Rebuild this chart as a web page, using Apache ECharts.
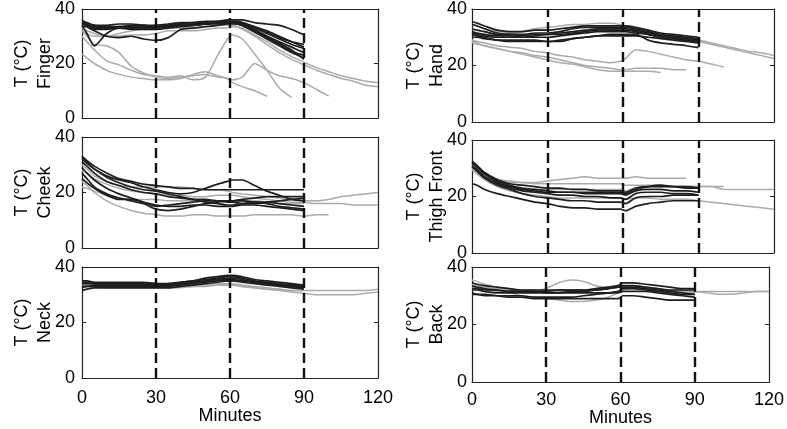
<!DOCTYPE html>
<html><head><meta charset="utf-8">
<script src="https://cdn.jsdelivr.net/npm/echarts@6/dist/echarts.min.js"></script>
<style>html,body{margin:0;padding:0;background:#fff}#c{width:787px;height:429px}</style>
</head><body><div id="c"></div>
<script>
// shared time axis (minutes)
const minutes = [0,2,5,10,15,20,25,30,35,40,45,50,55,59,61,65,70,75,80,85,90,95,100,105,110,115,120];
const phaseMarks = [30,60,90];
const panelNames = ['Finger','Hand','Cheek','Thigh Front','Neck','Back'];

// Finger
const fB1 = [35.5,35,34,34,34.5,34.5,34,34,34.5,35,35,35.5,35.5,36,36,36,35,34.5,34,32.5,30.5];
const fB2 = [34.5,34,33.5,33.5,33.5,34,34,33.5,34,34.5,34.5,35,35,35.5,35.5,35,33.5,31.5,29.5,28,27];
const fB3 = [36,34.5,33,33,33.5,33.5,33,34,34,34,34.5,34.5,35,35,35.5,35,33,31,29,27,25.5];
const fB4 = [35,33.5,32,30,29.5,30,29,28.5,29.5,32.5,33,33.5,34,34.5,34.5,34,32,30,28,26,24];
const fB5 = [34,31,26.5,31,33,32.5,32.5,32.5,33,33.5,34,34.5,35,35,35,34,32,29.5,27,24.5,23];
const fB6 = [35,34.5,34,33,33,33.5,34,33.5,34,34.5,35,35,35.5,35.5,35,34,31.5,29,26.5,24,22];
const fB7 = [33.5,33.5,32.5,32.5,33,33,33,33,33.5,34,34,34.5,34.5,35,35,34.5,32.5,30,27.5,25,21.5];
const fB8 = [34.5,34,33.5,33,33,33,33.5,33,33.5,34,34,34.5,35,35,35,34.5,33.5,32,30,28,26];
const fG1 = [33,32,31,30,30,30.5,30.5,31,32,32,32,32.5,33,33,33.5,33,30.5,28,25,22.5,20.5,18.5,17,15.5,14.5,13.5,13];
const fG2 = [32,31,30,30,31,32,32.5,32.5,33,33,33,33.5,34,34,34,32.5,30,27,24,21.5,19.5,17.5,16,14.5,13.5,12,11.5];
const fG3 = [30,28,25,21,19.5,17.5,16,15.5,15,15.5,14,15,23,29,30.5,29,23.5,17.5,11,7.5];
const fG4 = [23.5,22,20,17.5,16,15,14.5,14,14,14.5,16,17,15.5,14.5,14,15,20,17.5,15.5,14.5,13,10.5,8];
const fG5 = [32,30,27,26.5,24,19,16.5,15,14.5,15,15.5,16,15,14.5,13,11.5,10,8];

// Hand
const hB1 = [35.5,35,34,32.5,32,32,32.5,32.5,33,33.5,34,34,34,34,34,33.5,32.5,31.5,31,30.5,30];
const hB2 = [34.5,34,33,31.5,31,31,31.5,31.5,32,33,33.5,33.5,33.5,33.5,33.5,33,32,31,30.5,30,29.5];
const hB3 = [33,32.5,32,31,31,30.5,31,31,31.5,32,32.5,33,33,33,33,32.5,31.5,30.5,30,29.5,29];
const hB4 = [32,31.5,31,30.5,30.5,30,30,30,30.5,31,31.5,32,32,32,32,31.5,31,30,29.5,29,28.5];
const hB5 = [31,30.5,30,29,29,29,29,28.5,28.5,29.5,30,30.5,31,31,31,31,29,28,27.5,27,26.3];
const hB6 = [31.5,31,30.5,30,30,30,30.5,31,31,31.5,32,32.5,32.5,32.5,32.5,32,31,30,29.5,29,28.5];
const hB7 = [30,30,29.5,29,28.5,28.5,28.5,28.5,29,29.5,30,30.5,30.5,30.5,30.5,30.5,30,29.5,29,28.5,28];
const hG1 = [33,32.5,32,31,31,32,33,33.5,34,34.5,34.5,35,35,34.5,34,33,32,31,30,29.5,29,28,27,26,25,24.5,23.5];
const hG2 = [34.5,34,33,32,31.5,32,32.5,32.5,33,33.5,33.5,33.5,34,33.5,33.5,33,32,31,30,29,28.5,27.5,26.5,25.5,24.5,23.5,22.5];
const hG3 = [29,28.5,28,27,26.5,26,25,24.5,23.5,23,22,21.5,21,21.5,22.5,25.5,25,24,23,22,21.5,20.5,19.5];
const hG4 = [28,27.5,27,26,25,24.5,23.5,23,22,21,20,19.5,19,18.5,18.5,19,19,19,18.5,18.5];
const hG5 = [28.5,28,27,26,25,24,23,22,21,20.5,19.5,18.5,18,18,18,18,18,17.5];

// Cheek
const cB1 = [33,31.5,29.5,27,25,24,23,22.5,22,21.5,21.5,21,21,21,21,21,21,21,21,21,21];
const cB2 = [32,30.5,28.5,26,24.5,23.5,22,21,20,19.5,20,21.5,23,24,24.5,24.5,22.5,20.5,19,17.5,17];
const cB3 = [33,31,28.5,25.5,23.5,22,21,20.5,19.5,18.5,17.5,16.5,16,15.5,15.5,16,16.5,16.5,16,15.5,15];
const cB4 = [27,25,22,19.5,18,17,16,14,13.5,14,15,16,16.5,17,17,17,16.5,16,15,14.5,14];
const cB5 = [29,27,24.5,21.5,19.5,18,16.5,15,15.5,16,16.5,17,17,16.5,16.5,16,16,16.5,17,17.5,18];
const cB6 = [31,29.5,27,24,22.5,21,20,19.5,18.5,18,17.5,17.5,17,17,17,17.5,18,18.5,18.5,18.5,18.5];
const cB7 = [25,23.5,21.5,19,17.5,17.5,16.5,15.5,15,15,15.5,15.5,15,15,15,15.5,15.5,15,14.5,14,13.5];
const cG1 = [30,28.5,26,24,22.5,22,22,22,22,22,21.5,21,21,20.5,20,19.5,19,18.5,18,17.5,17,17,17.5,18.5,19,19.5,20];
const cG2 = [28,27,25,23,21.5,20.5,20,19.5,19,19,18.5,18.5,19,19,19,18.5,18,17.5,17,16.5,16.5,16,16,16,15.5,15.5,15.5];
const cG3 = [24,22.5,20,17,15,13.5,12.5,12,11.5,11.5,12,12,11.5,11.5,11.5,11.5,12,12,12,12,11.5,12,12];
const cG4 = [22,21.5,20.5,19,18,17.5,17.5,17.5,17,17,17,17,17,17,17,17,17,16.5,16,16,16];

// Thigh Front
const tB1 = [32.5,31,28.5,26,24.5,24,23.5,23,23,22.5,22.5,22,22,22,21.5,23,23.5,23.5,23.5,23,23];
const tB2 = [32,30.5,28,25.5,24,23,22.5,22,21.5,21.5,21,21,21,21,20.5,22,22.5,22.5,22,22,21.5];
const tB3 = [31,29.5,27,24.5,23,22,21.5,21,20.5,20.5,20,20,19.5,19.5,19,21,21.5,21.5,21,21,20.5];
const tB4 = [30.5,29,26.5,24,22.5,21,20,19.5,19,18.5,18.5,18,18,18,17.5,19.5,20,20,20.5,20.5,20.5];
const tB5 = [24.5,24,22.5,21,20,19,18,17.5,16.5,16,16,15.5,15.5,15.5,15,16.5,17.5,18,18.5,18.5,18.5];
const tB6 = [32,30.5,28,25,23.5,22.5,22,21.5,21.5,21.5,21.5,21.5,21.5,21.5,21,22.5,23.5,24,23.5,23.5,23];
const tG1 = [31,29.5,27.5,26,25.5,25,25,25.5,26,26.5,27,26.5,26.5,26.5,26.5,27,26.5,26.5,26.5,26.5];
const tG2 = [30.5,29,27,25.5,25,25,24.5,24.5,24.5,24.5,24.5,24.5,24.5,24.5,24,24,24,24,23.5,23.5,23.5,23.5,22.5,22.5,22.5,22.5,22.5];
const tG3 = [29.5,28,26,24,23,22.5,22.5,22.5,22.5,22.5,22.5,22.5,22.5,22.5,22,23,23.5,23.5,23.5,23.5,23.5,23.5,23.5];
const tG4 = [30,28.5,26,23.5,22,21,20.5,20,19.5,19.5,19.5,19.5,19.5,19.5,19,19.5,19.5,19,19,19,18.5,18,17.5,17,16.5,16,15.5];

// Neck
const nB1 = [35,35,34.5,34.5,34.5,34.5,34.5,34,34,34.5,35,36,36.5,37,37,36.5,35.5,35,34.5,34,33.5];
const nB2 = [34,34,34,34,34,34,34,33.5,34,34.5,35,35.5,36,36.5,36.5,36,35,34.5,34,33.5,33];
const nB3 = [33,33,33.5,33.5,33.5,33.5,33.5,33.5,33.5,34,34.5,35,35.5,35.5,35.5,35,34.5,34,33.5,33,32.5];
const nB4 = [31.5,32,32.5,32.5,32.5,32.5,32.5,32.5,32.5,33,33.5,34,34.5,35,35,34.5,34,33.5,33,32.5,32];
const nB5 = [34.5,34.5,34,34,34,34,34,34,33.5,34,34.5,35,35.5,36,36,35.5,34.5,34,33.5,33,33];
const nB6 = [32.5,33,33,33,33,33,33,33,33,33.5,34,34.5,35,35,35,35,34.5,34,33.5,33.5,33];
const nG1 = [34,33.5,33.5,33.5,33,33,33,33,33,33,33.5,33.5,34,34,34,33.5,33,32.5,32,31.5,31.5,31.5,31.5,31.5,31.5,31.5,32];
const nG2 = [33,33,33,32.5,32.5,32.5,32.5,32.5,32.5,32.5,33,33,33.5,33.5,33.5,33,32.5,32,31.5,31,30.5,30,30,30,30,30.5,31];
const nG3 = [35,34.5,34,33.5,33.5,33.5,33.5,33,33,33,33,33.5,33.5,33.5,33.5,33,32.5,32,32,31.5,31.5];

// Back
const kB1 = [34.5,34,33.5,33,32.5,32,32,32,32,32,32,32.5,33,33.5,34.5,34.5,34,33.5,33,32.5,32.5];
const kB2 = [33.5,33,32.5,32,31.5,31.5,31.5,31,31,31.5,31.5,32,32.5,33,33.5,33.5,33,32.5,32,32,32];
const kB3 = [32,32,31.5,31,31,31,31,31,31,31,31,31,31,31,31.5,31.5,31.5,31,30.5,30,29.5];
const kB4 = [31,30.5,30.5,30,29.5,29.5,29,29,29,29,29,29,29,29,30,30,29.5,29,28.5,28.5,28.5];
const kB5 = [30.5,30.5,30,30,30,30,29.5,29.5,29.5,29.5,30,30.5,31,31.5,32.5,32.5,32,31.5,31,30.5,30.5];
const kB6 = [32.5,32.5,32,32,31.5,31.5,31.5,31.5,32,32,32,32,32.5,33,33,33,32.5,32,31.5,31,30.5];
const kG1 = [34,33.5,33,32.5,32,31.5,31.5,32.5,34.5,35.5,35,33.5,33,33,33.5,33.5,33,32.5,32,32,31.5,31,30.5,30.5,31,31.5,31.5];
const kG2 = [33,32.5,32,31.5,31,30,29.5,29,28.5,28,28,28.5,29.5,31,32,32.5,32.5,32,31.5,31.5,31.5,31.5,31.5,31.5,31.5,31.5,31.5];
const kG3 = [35.5,35,34,33,32.5,32,32,31.5,31.5,31.5,31.5,32,32.5,33,33,33,32.5,32,31.5,31.5,31];

const panelBlack = [
  [fB1,fB2,fB3,fB4,fB5,fB6,fB7,fB8],
  [hB1,hB2,hB3,hB4,hB5,hB6,hB7],
  [cB1,cB2,cB3,cB4,cB5,cB6,cB7],
  [tB1,tB2,tB3,tB4,tB5,tB6],
  [nB1,nB2,nB3,nB4,nB5,nB6],
  [kB1,kB2,kB3,kB4,kB5,kB6]
];
const panelGray = [
  [fG1,fG2,fG3,fG4,fG5],
  [hG1,hG2,hG3,hG4,hG5],
  [cG1,cG2,cG3,cG4],
  [tG1,tG2,tG3,tG4],
  [nG1,nG2,nG3],
  [kG1,kG2,kG3]
];

// layout (pixels)
const layout = [
  {left:82, top:8, width:296, height:110},
  {left:472, top:9, width:302, height:113},
  {left:82, top:137, width:296, height:111},
  {left:472, top:140, width:302, height:113},
  {left:82, top:267, width:296, height:111},
  {left:472, top:267, width:302, height:115}
];

const FONT = 'Liberation Sans, Arial, sans-serif';
const BOX = '#222';
const grids = [], xAxes = [], yAxes = [], series = [];
layout.forEach((g, i) => {
  grids.push(Object.assign({containLabel:false}, g));
  const bottomRow = i >= 4;
  const rightCol = i % 2 === 1;
  const commonX = {gridIndex:i, type:'value', min:0, max:120, interval:30,
    axisLine:{show:true, onZero:false, lineStyle:{color:BOX, width:1.2}},
    axisTick:{show:true, inside:true, length:4, lineStyle:{color:BOX}},
    splitLine:{show:false}};
  xAxes.push(Object.assign({}, commonX, {position:'bottom',
    axisLabel:{show:bottomRow, fontSize:18, color:'#000', fontFamily:FONT, margin: rightCol ? 9 : 11},
    name: bottomRow ? 'Minutes' : '', nameLocation:'middle', nameGap: rightCol ? 27 : 29,
    nameMoveOverlap:false,
    nameTextStyle:{fontSize:18, color:'#000', fontFamily:FONT}}));
  xAxes.push(Object.assign({}, commonX, {position:'top', axisLabel:{show:false}}));
  const commonY = {gridIndex:i, type:'value', min:0, max:40, interval:20,
    axisLine:{show:true, onZero:false, lineStyle:{color:BOX, width:1.2}},
    axisTick:{show:true, inside:true, length:4, lineStyle:{color:BOX}},
    splitLine:{show:false}};
  yAxes.push(Object.assign({}, commonY, {position:'left',
    axisLabel:{fontSize:18, color:'#000', fontFamily:FONT, margin: rightCol ? 5 : 7},
    name:'T (°C)\n' + panelNames[i], nameLocation:'middle', nameRotate:90, nameGap: rightCol ? 23 : 25,
    nameMoveOverlap:false,
    nameTextStyle:{fontSize:18, color:'#000', fontFamily:FONT, lineHeight:23}}));
  yAxes.push(Object.assign({}, commonY, {position:'right', axisLabel:{show:false}}));

  const mk = (arr, color, width, z) => ({
    type:'line', xAxisIndex:2*i, yAxisIndex:2*i, showSymbol:false, symbol:'none',
    smooth:0.25, silent:true, z:z,
    lineStyle:{color:color, width:width},
    data: arr.map((v, k) => [minutes[k], v])
  });
  panelGray[i].forEach(a => series.push(mk(a, '#aaaaaa', 1.5, 2)));
  panelBlack[i].forEach(a => series.push(mk(a, '#1e1e1e', 1.7, 3)));
  series.push({type:'line', xAxisIndex:2*i, yAxisIndex:2*i, data:[], silent:true, z:5,
    markLine:{silent:true, symbol:['none','none'], label:{show:false}, z:5,
      lineStyle:{color:'#111', width:2.4, type:[10,5]},
      data: phaseMarks.map(m => ({xAxis:m}))}});
});

const chart = echarts.init(document.getElementById('c'), null, {renderer:'canvas'});
chart.setOption({animation:false, backgroundColor:'#fff', grid:grids, xAxis:xAxes, yAxis:yAxes, series:series});
</script>
</body></html>
